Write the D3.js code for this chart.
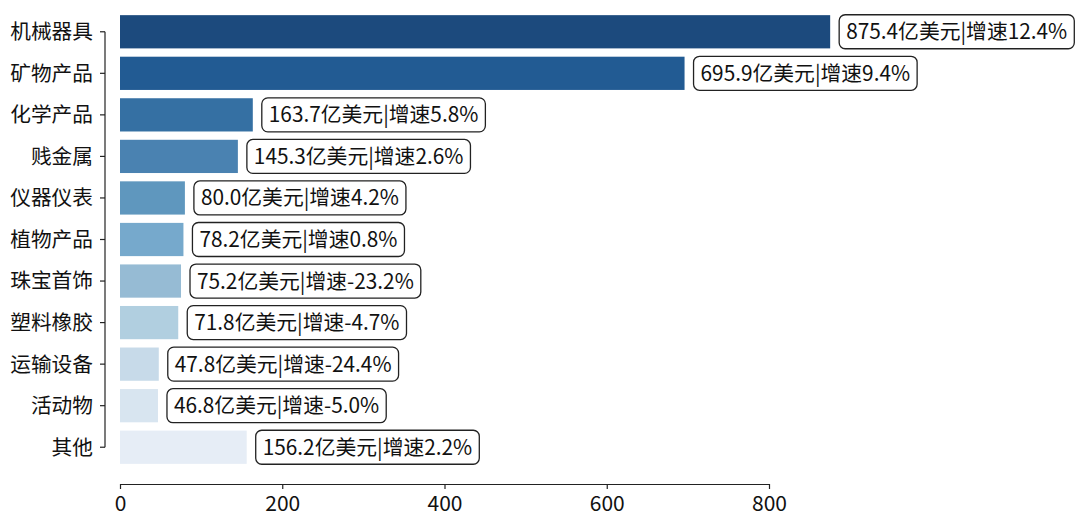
<!DOCTYPE html>
<html><head><meta charset="utf-8">
<script src="https://cdn.jsdelivr.net/npm/d3@7"></script>
<style>
html,body{margin:0;padding:0;background:#fff;}
svg text{font-family:"Noto Sans CJK SC","Noto Sans",sans-serif;fill:#111;}
</style></head>
<body><svg id="chart" width="1080" height="527"></svg>
<script>
const categories = ["机械器具","矿物产品","化学产品","贱金属","仪器仪表","植物产品","珠宝首饰","塑料橡胶","运输设备","活动物","其他"];
const values = [875.4, 695.9, 163.7, 145.3, 80.0, 78.2, 75.2, 71.8, 47.8, 46.8, 156.2];
const growth = ["12.4%","9.4%","5.8%","2.6%","4.2%","0.8%","-23.2%","-4.7%","-24.4%","-5.0%","2.2%"];
const colors = ["#1c4a7d","#225b93","#3570a3","#4a82b1","#5f97be","#76a9cc","#96bbd4","#b1cfe0","#c7dae9","#d8e5f0","#e6edf6"];
const xTicks = [0,200,400,600,800];

const svg = d3.select("#chart");
const x = d3.scaleLinear().domain([0,800]).range([120,769]);
const y = d3.scaleBand().domain(categories).range([11,468]).paddingInner(0.2).paddingOuter(0.1);
const bw = y.bandwidth();
const yc = c => y(c) + bw/2;

// bars
svg.selectAll("rect.bar").data(categories).join("rect")
  .attr("class","bar")
  .attr("x", x(0))
  .attr("y", c => y(c))
  .attr("width", (c,i) => x(values[i]) - x(0))
  .attr("height", bw)
  .attr("fill", (c,i) => colors[i]);

// y axis (trimmed spine)
const yAxisX = 105;
svg.append("line").attr("x1",yAxisX).attr("x2",yAxisX)
  .attr("y1", yc(categories[0])).attr("y2", yc(categories[categories.length-1]))
  .attr("stroke","#222").attr("stroke-width",1.2);
categories.forEach(c => {
  svg.append("line").attr("x1",yAxisX-5).attr("x2",yAxisX).attr("y1",yc(c)).attr("y2",yc(c))
    .attr("stroke","#222").attr("stroke-width",1.2);
  svg.append("text").attr("x",yAxisX-12).attr("y",yc(c)).attr("dy","0.36em")
    .attr("text-anchor","end").attr("font-size",20.7).text(c);
});

// x axis
const xAxisY = 484;
const xg = svg.append("g").attr("transform",`translate(0,${xAxisY})`)
  .call(d3.axisBottom(x).tickValues(xTicks).tickSize(5).tickPadding(7).tickSizeOuter(0));
xg.select(".domain").attr("stroke","#222").attr("stroke-width",1.2);
xg.selectAll(".tick line").attr("stroke","#222").attr("stroke-width",1.2);
xg.selectAll(".tick text").attr("font-size",21).attr("font-family",'"Noto Sans CJK SC","Noto Sans",sans-serif').attr("fill","#111");

// labels
categories.forEach((c,i) => {
  const g = svg.append("g");
  const tx = x(values[i]) + 16;
  const t = g.append("text").attr("x",tx).attr("y",yc(c)).attr("dy","0.36em")
    .attr("font-size",20.8).text(values[i].toFixed(1)+"亿美元|增速"+growth[i]);
  const w = t.node().getComputedTextLength();
  g.insert("rect","text").attr("x",tx-7).attr("y",yc(c)-17).attr("width",w+14).attr("height",34)
    .attr("rx",6).attr("ry",6).attr("fill","#fff").attr("stroke","#222").attr("stroke-width",1.3);
});
</script></body></html>
